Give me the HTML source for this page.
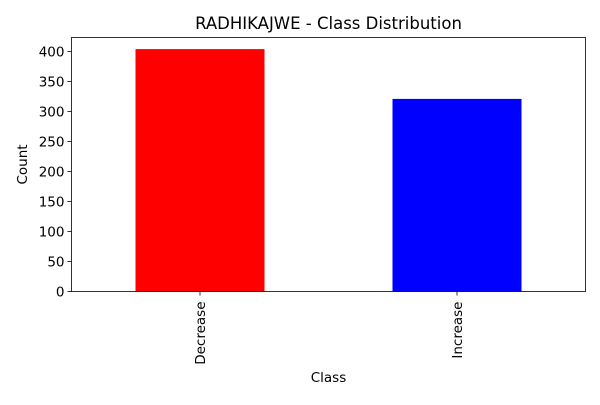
<!DOCTYPE html>
<html><head><meta charset="utf-8"><style>
body{margin:0;background:#fff;font-family:"Liberation Sans","DejaVu Sans",sans-serif;}
</style></head><body>
<svg id="chart" width="600" height="400" font-family="DejaVu Sans, Liberation Sans, sans-serif"></svg>
<script>
const categories = ["Decrease", "Increase"];
const counts = [404, 321];
const colors = ["#ff0000", "#0000ff"];
const yTicks = [0, 50, 100, 150, 200, 250, 300, 350, 400];

const svg = document.getElementById('chart');
const NS = 'http://www.w3.org/2000/svg';
const L = 71.5, R = 585.5, T = 37.5, B = 291.5;
const yScale = v => B - v * 0.6;
const xScale = i => L + (R - L) * (i + 0.5) / categories.length;
const barW = 129;
function mk(tag, attrs, text){const e=document.createElementNS(NS,tag);for(const k in attrs)e.setAttribute(k,attrs[k]);if(text!==undefined)e.textContent=text;svg.appendChild(e);return e;}

categories.forEach((c,i)=>{
  const r = mk('rect',{x:xScale(i)-barW/2,y:yScale(counts[i]),width:barW,height:B-yScale(counts[i]),fill:colors[i]});
  
  
  const tk = mk('line',{x1:xScale(i),x2:xScale(i),y1:B,y2:B+4,stroke:'#000','stroke-width':0.8});
  
  
  const x=xScale(i)+5, y=B+10;
  const t = mk('text',{x:x,y:y,'font-size':13.5,'text-anchor':'end',transform:`rotate(-90 ${x} ${y})`},c);
  
  
});
yTicks.forEach(v=>{
  const tk = mk('line',{x1:L-4,x2:L,y1:yScale(v),y2:yScale(v),stroke:'#000','stroke-width':0.8});
  
  
  const t = mk('text',{x:L-7,y:yScale(v)+5,'font-size':13.5,'text-anchor':'end'},v);
  
  
});
const frame = mk('rect',{x:L,y:T,width:R-L,height:B-T,fill:'none',stroke:'#000','stroke-width':0.8});


const title = mk('text',{x:(L+R)/2,y:29,'font-size':16.5,'text-anchor':'middle'},'RADHIKAJWE - Class Distribution');


const xt = mk('text',{x:(L+R)/2,y:382,'font-size':13.5,'text-anchor':'middle'},'Class');


const yt = mk('text',{x:27,y:(T+B)/2,'font-size':13.5,'text-anchor':'middle',transform:`rotate(-90 27 ${(T+B)/2})`},'Count');


</script>
</body></html>
